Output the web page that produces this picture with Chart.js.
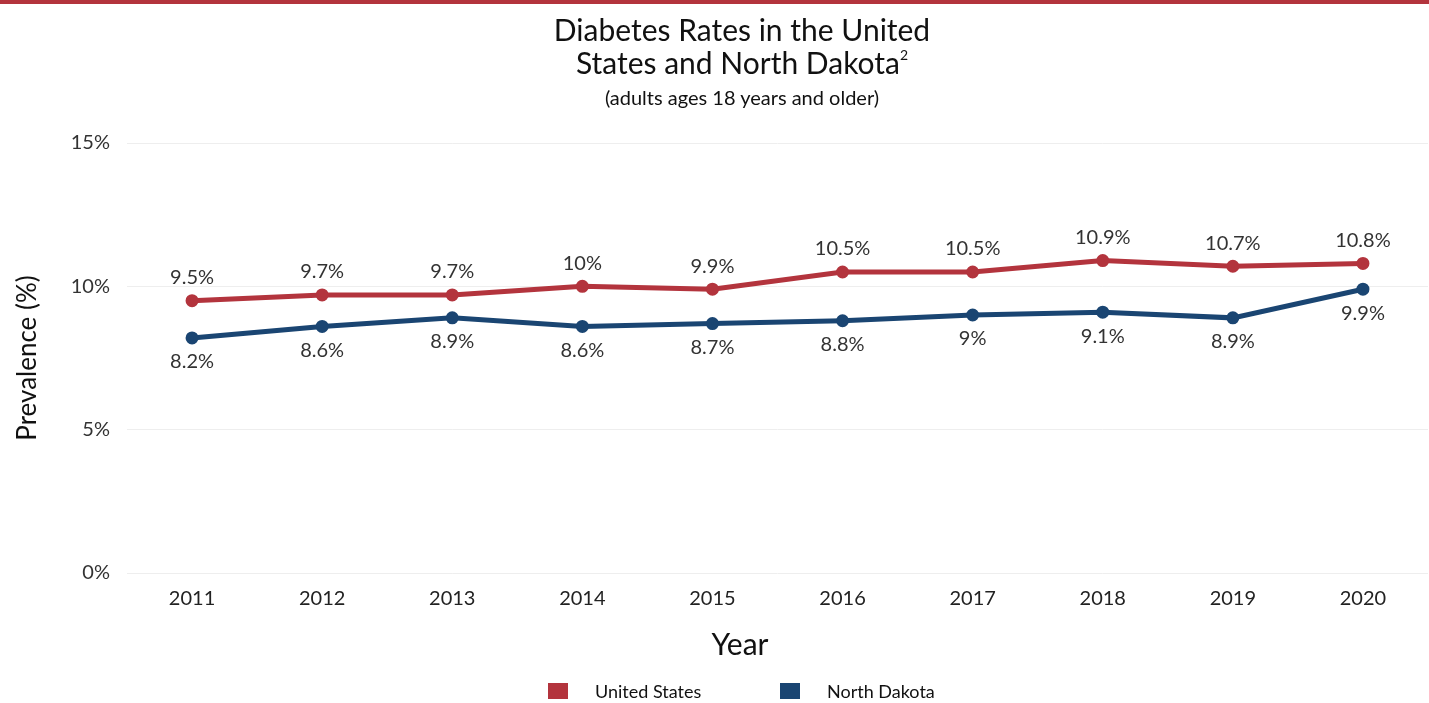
<!DOCTYPE html>
<html>
<head>
  <meta charset="utf-8">
  <script src="https://cdn.jsdelivr.net/npm/chart.js"></script>
  <style>
    body {
      margin: 0;
      background: white;
      font-family: 'Lato', sans-serif;
      color: #111;
    }
    #wrap {
      position: relative;
      width: 1429px;
      height: 703px;
      overflow: hidden;
    }
    #topBar {
      position: absolute;
      left: 0; top: 0;
      width: 1429px; height: 4px;
      background: #b3343d;
    }
    .centered {
      position: absolute;
      left: 542px;
      width: 400px;
      text-align: center;
      white-space: nowrap;
    }
    #title { top: 13px; font-size: 30px; line-height: 33px; }
    #title sup { font-size: 14px; vertical-align: 14px; line-height: 0; }
    #subtitle { top: 85px; font-size: 20px; line-height: 24px; }
    #xTitle { top: 624px; font-size: 30px; line-height: 38px; left: 540px; }
    #legend {
      position: absolute;
      top: 679px;
      left: 0;
      width: 1429px;
      height: 24px;
      font-size: 18px;
    }
    .item { position: absolute; top: 0; line-height: 24px; }
    .box { position: absolute; top: 4px; width: 20px; height: 16px; }
  </style>
</head>
<body>

  <div id="wrap">
    <canvas id="chartDiabetes" width="1429" height="703"></canvas>
    <div id="topBar"></div>
    <div id="title" class="centered">Diabetes Rates in the United<br>States and North Dakota<sup>2</sup></div>
    <div id="subtitle" class="centered">(adults ages 18 years and older)</div>
    <div id="xTitle" class="centered">Year</div>
    <div id="legend"></div>
  </div>

  <script>
    const years = ['2011', '2012', '2013', '2014', '2015', '2016', '2017', '2018', '2019', '2020'];
    const unitedStates = [9.5, 9.7, 9.7, 10, 9.9, 10.5, 10.5, 10.9, 10.7, 10.8];
    const northDakota = [8.2, 8.6, 8.9, 8.6, 8.7, 8.8, 9, 9.1, 8.9, 9.9];
    const yTicks = [0, 5, 10, 15];

    const RED = '#b3343d';
    const BLUE = '#1a4572';

    // labels above the red line, below the blue one
    const pointLabels = {
      id: 'pointLabels',
      afterDatasetsDraw(chart) {
        const ctx = chart.ctx;
        ctx.save();
        ctx.font = '20px Lato';
        ctx.fillStyle = '#333';
        ctx.textAlign = 'center';
        ctx.textBaseline = 'middle';
        chart.data.datasets.forEach((ds, i) => {
          const meta = chart.getDatasetMeta(i);
          const dy = ds.labelPos === 'above' ? -23 : 24;
          meta.data.forEach((pt, j) => {
            ctx.fillText(ds.data[j] + '%', pt.x, pt.y + dy);
          });
        });
        ctx.restore();
      }
    };

    new Chart(document.getElementById('chartDiabetes'), {
      type: 'line',
      data: {
        labels: years,
        datasets: [{
          label: 'United States',
          data: unitedStates,
          borderColor: RED,
          backgroundColor: RED,
          borderWidth: 5,
          pointRadius: 4,
          labelPos: 'above'
        }, {
          label: 'North Dakota',
          data: northDakota,
          borderColor: BLUE,
          backgroundColor: BLUE,
          borderWidth: 5,
          pointRadius: 4,
          labelPos: 'below'
        }]
      },
      options: {
        responsive: false,
        animation: false,
        layout: { autoPadding: false, padding: { top: 143, right: 1, bottom: 86, left: 12 } },
        plugins: {
          legend: { display: false },
          tooltip: { enabled: false }
        },
        scales: {
          x: {
            offset: true,
            grid: { display: false },
            border: { display: false },
            ticks: { color: '#222', font: { family: 'Lato', size: 20 }, padding: 6 }
          },
          y: {
            min: 0,
            max: 15,
            afterBuildTicks: (scale) => { scale.ticks = yTicks.map(v => ({ value: v })); },
            afterFit: (scale) => { scale.width = 115; },
            grid: { color: '#eeeeee', drawTicks: false },
            border: { display: false },
            ticks: {
              color: '#333',
              font: { family: 'Lato', size: 20 },
              padding: 17,
              callback: (v) => v + '%'
            },
            title: {
              display: true,
              text: 'Prevalence (%)',
              color: '#111',
              font: { family: 'Lato', size: 26 },
              padding: { top: 0, bottom: 0 }
            }
          }
        }
      },
      plugins: [pointLabels]
    });

    // legend below the chart
    const legendItems = [
      { name: 'United States', color: RED, x: 548 },
      { name: 'North Dakota', color: BLUE, x: 780 }
    ];
    const legendEl = document.getElementById('legend');
    legendItems.forEach(item => {
      const box = document.createElement('div');
      box.className = 'box';
      box.style.left = item.x + 'px';
      box.style.background = item.color;
      legendEl.appendChild(box);
      const txt = document.createElement('div');
      txt.className = 'item';
      txt.style.left = (item.x + 47) + 'px';
      txt.textContent = item.name;
      legendEl.appendChild(txt);
    });
  </script>

</body>
</html>
